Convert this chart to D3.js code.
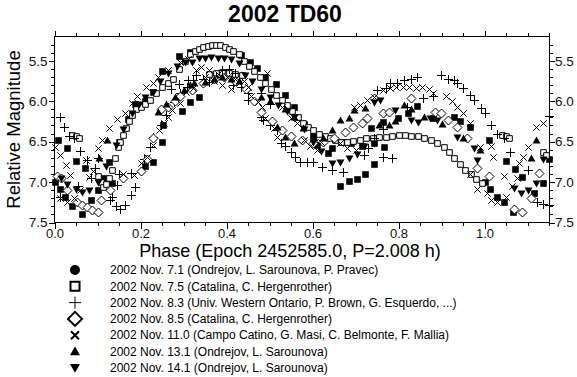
<!DOCTYPE html>
<html>
<head>
<meta charset="utf-8">
<script src="https://cdn.jsdelivr.net/npm/d3@7"></script>
<style>
  body { margin: 0; background: #fff; }
  svg { display: block; font-family: "Liberation Sans", Arial, sans-serif; }
</style>
</head>
<body>
<div id="chart"></div>
<script>
// [phase, relative magnitude]
let nov71 = [
    [0.000, 7.00], [0.007, 6.48], [0.012, 7.08], [0.024, 7.18], [0.030, 6.58], [0.040, 7.30],
    [0.050, 6.74], [0.063, 7.39], [0.070, 6.83], [0.085, 7.22], [0.100, 7.10], [0.112, 6.95],
    [0.126, 6.75], [0.133, 7.01], [0.150, 6.50], [0.170, 6.22], [0.188, 6.04], [0.210, 6.00],
    [0.210, 6.80], [0.230, 5.89], [0.230, 6.75], [0.250, 5.63], [0.250, 6.50], [0.253, 6.30],
    [0.290, 5.44], [0.297, 6.12], [0.316, 5.39], [0.316, 6.01], [0.337, 5.95], [0.433, 5.43],
    [0.454, 5.52], [0.470, 5.59], [0.490, 5.70], [0.514, 5.79], [0.535, 5.92], [0.558, 6.07],
    [0.580, 6.28], [0.600, 6.43], [0.610, 6.54], [0.635, 6.64], [0.663, 7.05], [0.670, 6.50],
    [0.684, 6.99], [0.704, 6.96], [0.723, 6.90], [0.737, 6.33], [0.744, 6.78], [0.744, 6.52],
    [0.763, 6.26], [0.767, 6.57], [0.798, 6.21], [0.823, 6.14], [0.844, 6.06], [0.880, 6.21],
    [0.928, 6.20], [0.944, 6.24], [0.967, 6.32], [1.000, 7.00], [1.010, 6.48], [1.012, 7.08],
    [1.030, 7.18], [1.045, 7.25], [1.050, 6.74], [1.067, 7.37], [1.070, 6.84], [1.088, 6.94],
    [1.115, 7.14], [1.137, 7.01], [1.150, 6.72], [0.690, 6.52], [0.715, 6.55], [0.645, 6.58]
];

let nov75 = [
    [0.040, 6.42], [0.050, 6.43], [0.057, 6.45], [0.100, 6.92], [0.107, 7.00], [0.113, 7.06],
    [0.120, 7.03], [0.127, 6.95], [0.133, 6.85], [0.140, 6.70], [0.147, 6.57], [0.153, 6.50],
    [0.160, 6.42], [0.167, 6.33], [0.173, 6.25], [0.180, 6.17], [0.190, 6.10], [0.200, 6.07],
    [0.210, 6.03], [0.223, 5.98], [0.237, 5.90], [0.250, 5.83], [0.263, 5.77], [0.276, 5.72],
    [0.290, 5.60], [0.303, 5.50], [0.316, 5.42], [0.326, 5.38], [0.336, 5.35], [0.346, 5.33],
    [0.356, 5.32], [0.366, 5.31], [0.376, 5.30], [0.386, 5.31], [0.396, 5.33], [0.406, 5.35],
    [0.416, 5.38], [0.428, 5.42], [0.440, 5.50], [0.452, 5.57], [0.465, 5.63], [0.478, 5.70],
    [0.490, 5.78], [0.503, 5.85], [0.516, 5.92], [0.528, 5.98], [0.540, 6.05], [0.553, 6.12],
    [0.566, 6.20], [0.578, 6.27], [0.590, 6.32], [0.602, 6.36], [0.615, 6.40], [0.628, 6.43],
    [0.640, 6.46], [0.653, 6.48], [0.666, 6.50], [0.680, 6.50], [0.695, 6.49], [0.710, 6.48],
    [0.725, 6.46], [0.740, 6.45], [0.755, 6.44], [0.770, 6.44], [0.785, 6.43], [0.800, 6.42],
    [0.815, 6.42], [0.830, 6.43], [0.845, 6.43], [0.860, 6.45], [0.875, 6.48], [0.890, 6.52],
    [0.905, 6.57], [0.918, 6.63], [0.930, 6.70], [0.942, 6.78], [0.955, 6.85], [0.968, 6.90],
    [0.980, 6.96], [0.995, 7.01], [1.040, 6.42], [1.050, 6.43], [1.057, 6.45], [1.135, 6.63],
    [1.142, 6.67], [0.360, 5.66], [0.375, 5.65], [0.390, 5.64], [0.405, 5.65], [0.420, 5.66],
    [0.435, 5.68]
];

let nov83 = [
    [0.012, 6.20], [0.021, 6.32], [0.033, 6.43], [0.045, 6.45], [0.060, 6.62], [0.076, 6.73],
    [0.100, 6.70], [0.094, 6.82], [0.084, 6.95], [0.055, 7.05], [0.026, 7.11], [0.012, 7.18],
    [0.130, 7.22], [0.134, 7.18], [0.142, 7.30], [0.146, 7.04], [0.150, 6.90], [0.153, 7.33],
    [0.165, 7.28], [0.177, 7.16], [0.177, 6.89], [0.188, 7.06], [0.207, 6.71], [0.223, 6.57],
    [0.230, 6.44], [0.247, 6.30], [0.260, 6.17], [0.277, 6.01], [0.293, 5.90], [0.309, 5.82],
    [0.323, 5.74], [0.270, 5.85], [0.290, 5.79], [0.310, 5.74], [0.330, 5.68], [0.345, 5.72],
    [0.360, 5.76], [0.375, 5.70], [0.390, 5.62], [0.405, 5.60], [0.420, 5.65], [0.416, 5.80],
    [0.433, 5.82], [0.449, 5.90], [0.449, 5.99], [0.480, 5.90], [0.502, 6.03], [0.480, 6.19],
    [0.486, 6.23], [0.500, 6.30], [0.518, 6.36], [0.526, 6.52], [0.537, 6.56], [0.549, 6.63],
    [0.560, 6.69], [0.572, 6.75], [0.588, 6.75], [0.602, 6.75], [0.623, 6.81], [0.646, 6.85],
    [0.670, 6.88], [0.720, 6.67], [0.730, 6.58], [0.742, 6.46], [0.765, 6.34], [0.765, 6.69],
    [0.786, 6.70], [0.820, 6.07], [0.750, 5.86], [0.770, 5.84], [0.780, 5.78], [0.797, 5.78],
    [0.812, 5.74], [0.828, 5.72], [0.844, 5.70], [0.858, 5.96], [0.880, 5.94], [0.898, 5.68],
    [0.914, 5.72], [0.928, 5.74], [0.937, 5.78], [0.951, 5.84], [0.967, 5.92], [0.975, 5.99],
    [0.991, 6.08], [1.002, 6.15], [1.014, 6.30], [1.030, 6.40], [1.045, 6.46], [1.060, 6.63],
    [1.100, 6.85], [1.123, 7.25], [1.137, 7.27], [1.149, 7.28], [1.149, 6.18]
];

let nov85 = [
    [0.005, 6.93], [0.014, 6.95], [0.030, 7.10], [0.053, 7.25], [0.065, 7.28], [0.076, 7.31],
    [0.088, 7.35], [0.100, 7.37], [0.107, 7.22], [0.130, 7.10], [0.160, 6.95], [0.200, 6.86],
    [0.215, 6.72], [0.230, 6.45], [0.247, 6.10], [0.265, 6.07], [0.280, 6.00], [0.293, 5.93],
    [0.320, 5.86], [0.345, 5.78], [0.370, 5.72], [0.395, 5.70], [0.420, 5.75], [0.445, 5.85],
    [0.465, 6.00], [0.480, 6.13], [0.505, 6.25], [0.530, 6.36], [0.550, 6.43], [0.575, 6.48],
    [0.600, 6.52], [0.625, 6.50], [0.650, 6.45], [0.675, 6.38], [0.695, 6.32], [0.715, 6.27],
    [0.727, 6.21], [0.742, 5.96], [0.765, 6.15], [0.777, 6.13], [0.828, 5.96], [0.886, 6.13],
    [0.898, 6.15], [0.914, 6.23], [0.937, 6.32], [0.960, 6.46], [0.983, 6.83], [1.010, 6.92],
    [1.068, 7.33], [1.088, 7.37], [1.107, 7.20], [1.126, 6.89]
];

let nov110 = [
    [0.000, 6.57], [0.012, 6.67], [0.026, 6.79], [0.037, 6.91], [0.012, 7.20], [0.030, 7.25],
    [0.045, 7.20], [0.060, 7.10], [0.074, 6.73], [0.080, 6.94], [0.090, 6.86], [0.100, 6.58],
    [0.110, 6.48], [0.126, 6.33], [0.146, 6.22], [0.165, 6.14], [0.180, 6.02], [0.193, 5.93],
    [0.212, 5.82], [0.228, 5.78], [0.240, 5.70], [0.263, 5.61], [0.293, 5.51], [0.310, 5.48],
    [0.160, 6.90], [0.184, 6.91], [0.200, 6.77], [0.216, 6.69], [0.228, 6.54], [0.242, 6.36],
    [0.254, 6.27], [0.265, 6.20], [0.274, 6.11], [0.293, 6.02], [0.305, 5.89], [0.323, 5.84],
    [0.330, 5.62], [0.340, 5.58], [0.350, 5.70], [0.360, 5.62], [0.370, 5.75], [0.380, 5.66],
    [0.390, 5.80], [0.400, 5.70], [0.410, 5.85], [0.420, 5.73], [0.430, 5.78], [0.440, 5.75],
    [0.449, 5.82], [0.456, 5.93], [0.474, 6.01], [0.483, 6.07], [0.490, 6.21], [0.510, 6.33],
    [0.518, 6.44], [0.495, 5.65], [0.530, 6.07], [0.550, 6.21], [0.565, 6.27], [0.580, 6.48],
    [0.595, 6.55], [0.610, 6.60], [0.620, 6.50], [0.665, 6.52], [0.680, 6.58], [0.700, 6.60],
    [0.696, 6.07], [0.710, 6.05], [0.727, 5.99], [0.742, 5.95], [0.765, 5.86], [0.780, 5.84],
    [0.795, 5.82], [0.810, 5.83], [0.825, 5.82], [0.840, 5.84], [0.855, 5.83], [0.870, 5.85],
    [0.880, 5.90], [0.910, 5.94], [0.925, 6.00], [0.937, 6.07], [0.950, 6.15], [0.967, 6.27],
    [0.990, 6.57], [1.014, 6.56], [1.020, 6.69], [1.045, 6.93], [0.967, 6.90], [0.983, 7.08],
    [1.006, 7.14], [1.014, 7.22], [1.030, 7.25], [1.050, 7.18], [1.080, 6.77], [1.090, 6.69],
    [1.100, 6.57], [1.120, 6.32], [1.137, 6.27], [1.065, 7.05], [1.075, 6.95]
];

let nov131 = [
    [0.103, 6.70], [0.123, 6.48], [0.240, 6.13], [0.260, 6.03], [0.280, 5.95], [0.300, 5.86],
    [0.316, 5.80], [0.324, 5.78], [0.350, 5.76], [0.370, 5.72], [0.390, 5.70], [0.410, 5.72],
    [0.430, 5.75], [0.480, 5.95], [0.500, 6.00], [0.518, 6.32], [0.537, 6.10], [0.537, 6.44],
    [0.556, 6.20], [0.556, 6.52], [0.577, 6.33], [0.603, 6.46], [0.625, 6.45], [0.646, 6.36],
    [0.665, 6.23], [0.684, 6.21], [0.696, 6.11], [0.723, 6.09], [0.754, 6.30], [0.777, 6.30],
    [0.793, 6.24], [0.812, 6.05], [0.830, 6.10], [0.860, 6.20], [0.900, 6.28], [0.950, 6.45],
    [0.990, 6.60], [1.107, 6.70], [1.120, 6.48]
];

let nov141 = [
    [0.014, 6.95], [0.030, 7.02], [0.049, 7.08], [0.065, 7.12], [0.080, 7.10], [0.100, 7.00],
    [0.120, 6.80], [0.142, 6.54], [0.160, 6.35], [0.180, 6.15], [0.196, 6.03], [0.210, 5.95],
    [0.228, 5.89], [0.245, 5.75], [0.263, 5.65], [0.286, 5.57], [0.303, 5.52], [0.320, 5.52],
    [0.335, 5.47], [0.350, 5.46], [0.365, 5.45], [0.380, 5.47], [0.395, 5.46], [0.410, 5.48],
    [0.428, 5.53], [0.444, 5.68], [0.460, 5.75], [0.480, 5.85], [0.500, 5.95], [0.520, 6.05],
    [0.540, 6.12], [0.556, 6.20], [0.580, 6.35], [0.600, 6.50], [0.620, 6.62], [0.646, 6.77],
    [0.665, 6.75], [0.685, 6.70], [0.704, 6.65], [0.720, 6.56], [0.742, 6.01], [0.758, 5.99],
    [0.742, 6.52], [0.793, 6.11], [0.828, 6.23], [0.846, 6.26], [0.874, 6.21], [0.890, 6.23],
    [0.937, 6.44], [0.975, 6.58], [0.983, 6.73], [1.068, 7.07], [1.084, 7.13], [1.100, 7.10],
    [1.120, 7.01], [1.135, 6.71]
];

let legendLabels = [
    "2002 Nov. 7.1 (Ondrejov, L. Sarounova, P. Pravec)",
    "2002 Nov. 7.5 (Catalina, C. Hergenrother)",
    "2002 Nov. 8.3 (Univ. Western Ontario, P. Brown, G. Esquerdo, ...)",
    "2002 Nov. 8.5 (Catalina, C. Hergenrother)",
    "2002 Nov. 11.0 (Campo Catino, G. Masi, C. Belmonte, F. Mallia)",
    "2002 Nov. 13.1 (Ondrejov, L. Sarounova)",
    "2002 Nov. 14.1 (Ondrejov, L. Sarounova)"
];

let xMajor = [0.0, 0.2, 0.4, 0.6, 0.8, 1.0];
let yMajor = [5.5, 6.0, 6.5, 7.0, 7.5];

// symbol shapes, size = half width
let shapes = {
    square: { draw: (c, r) => { c.rect(-r, -r, 2 * r, 2 * r); } },
    plus: { draw: (c, r) => { c.moveTo(-r, 0); c.lineTo(r, 0); c.moveTo(0, -r); c.lineTo(0, r); } },
    times: { draw: (c, r) => { c.moveTo(-r, -r); c.lineTo(r, r); c.moveTo(-r, r); c.lineTo(r, -r); } },
    diamond: { draw: (c, r) => { c.moveTo(0, -r); c.lineTo(r, 0); c.lineTo(0, r); c.lineTo(-r, 0); c.closePath(); } },
    up: { draw: (c, r) => { c.moveTo(0, -r); c.lineTo(r, r * 0.75); c.lineTo(-r, r * 0.75); c.closePath(); } },
    down: { draw: (c, r) => { c.moveTo(0, r); c.lineTo(r, -r * 0.75); c.lineTo(-r, -r * 0.75); c.closePath(); } },
    circle: { draw: (c, r) => { c.moveTo(r, 0); c.arc(0, 0, r, 0, 2 * Math.PI); } }
};

let series = [
    { data: nov71, shape: "square", r: 3.3, fill: "#000", stroke: "none", leg: "circle", lr: 5 },
    { data: nov75, shape: "square", r: 2.8, fill: "#fff", stroke: "#000", leg: "square", lr: 4.5 },
    { data: nov83, shape: "plus", r: 4.5, fill: "none", stroke: "#000", leg: "plus", lr: 6 },
    { data: nov85, shape: "diamond", r: 4.5, fill: "#fff", stroke: "#000", leg: "diamond", lr: 7 },
    { data: nov110, shape: "times", r: 3.2, fill: "none", stroke: "#000", leg: "times", lr: 4 },
    { data: nov131, shape: "up", r: 4, fill: "#000", stroke: "none", leg: "up", lr: 5 },
    { data: nov141, shape: "down", r: 4, fill: "#000", stroke: "none", leg: "down", lr: 5 }
];

let margin = { top: 36.5, right: 28, bottom: 154.5, left: 54.5 },
    W = 577, H = 377,
    width = W - margin.left - margin.right,
    height = H - margin.top - margin.bottom;

let svg = d3.select("#chart").append("svg")
    .attr("width", W)
    .attr("height", H);

let x = d3.scaleLinear().domain([0, 1.15]).range([margin.left, margin.left + width]);
let y = d3.scaleLinear().domain([5.2, 7.5]).range([margin.top, margin.top + height]);

svg.append("text")
    .attr("x", 285).attr("y", 22)
    .attr("text-anchor", "middle")
    .style("font-size", "23px").style("font-weight", "bold")
    .text("2002 TD60");

// minor + major ticks on all four sides
let xMinor = d3.range(0, 1.151, 0.05).filter(v => !xMajor.some(m => Math.abs(m - v) < 1e-6));
let yMinor = d3.range(5.3, 7.501, 0.1).filter(v => !yMajor.some(m => Math.abs(m - v) < 1e-6));

function axisG(axis, tr, fs) {
    let g = svg.append("g").attr("transform", tr).call(axis);
    g.select(".domain").remove();
    g.selectAll("line").attr("stroke", "#000").attr("shape-rendering", "crispEdges");
    g.selectAll("text").style("font-size", fs || "13.5px").attr("fill", "#111");
    return g;
}

let bottomY = margin.top + height, rightX = margin.left + width;
axisG(d3.axisBottom(x).tickValues(xMajor).tickSize(6).tickPadding(0).tickFormat(d3.format(".1f")), `translate(0,${bottomY})`, "13px");
axisG(d3.axisBottom(x).tickValues(xMinor).tickSize(3.5).tickFormat(""), `translate(0,${bottomY})`);
axisG(d3.axisTop(x).tickValues(xMajor).tickSize(6).tickFormat(""), `translate(0,${margin.top})`);
axisG(d3.axisTop(x).tickValues(xMinor).tickSize(3.5).tickFormat(""), `translate(0,${margin.top})`);
axisG(d3.axisLeft(y).tickValues(yMajor).tickSize(6).tickPadding(1).tickFormat(d3.format(".1f")), `translate(${margin.left},0)`);
axisG(d3.axisLeft(y).tickValues(yMinor).tickSize(3.5).tickFormat(""), `translate(${margin.left},0)`);
axisG(d3.axisRight(y).tickValues(yMajor).tickSize(6).tickPadding(0).tickFormat(d3.format(".1f")), `translate(${rightX},0)`);
axisG(d3.axisRight(y).tickValues(yMinor).tickSize(3.5).tickFormat(""), `translate(${rightX},0)`);

svg.append("rect")
    .attr("x", margin.left).attr("y", margin.top)
    .attr("width", width).attr("height", height)
    .attr("fill", "none").attr("stroke", "#000")
    .attr("shape-rendering", "crispEdges");

// data marks
let plot = svg.append("g");
series.forEach(s => {
    plot.selectAll(null)
        .data(s.data)
        .enter()
        .append("path")
        .attr("d", d3.symbol().type(shapes[s.shape]).size(s.r))
        .attr("transform", d => `translate(${Math.round(x(d[0])) + 0.5},${Math.round(y(d[1])) + 0.5})`)
        .attr("fill", s.fill)
        .attr("stroke", s.stroke)
        .attr("stroke-width", 1);
});

svg.append("text")
    .attr("transform", "rotate(-90)")
    .attr("x", -(margin.top + height / 2)).attr("y", 19.5)
    .attr("text-anchor", "middle")
    .style("font-size", "18.5px")
    .text("Relative Magnitude");

svg.append("text")
    .attr("x", 290).attr("y", 257)
    .attr("text-anchor", "middle")
    .style("font-size", "18px")
    .text("Phase (Epoch 2452585.0, P=2.008 h)");

// legend
let leg = svg.append("g");
series.forEach((s, i) => {
    let ly = 270 + i * 16.3;
    leg.append("path")
        .attr("d", d3.symbol().type(shapes[s.leg]).size(s.lr))
        .attr("transform", `translate(75,${ly})`)
        .attr("fill", s.fill)
        .attr("stroke", s.stroke)
        .attr("stroke-width", s.leg === "plus" ? 1 : 2);
    leg.append("text")
        .attr("x", 110).attr("y", ly + 4.2)
        .style("font-size", "12px")
        .text(legendLabels[i]);
});
</script>
</body>
</html>
